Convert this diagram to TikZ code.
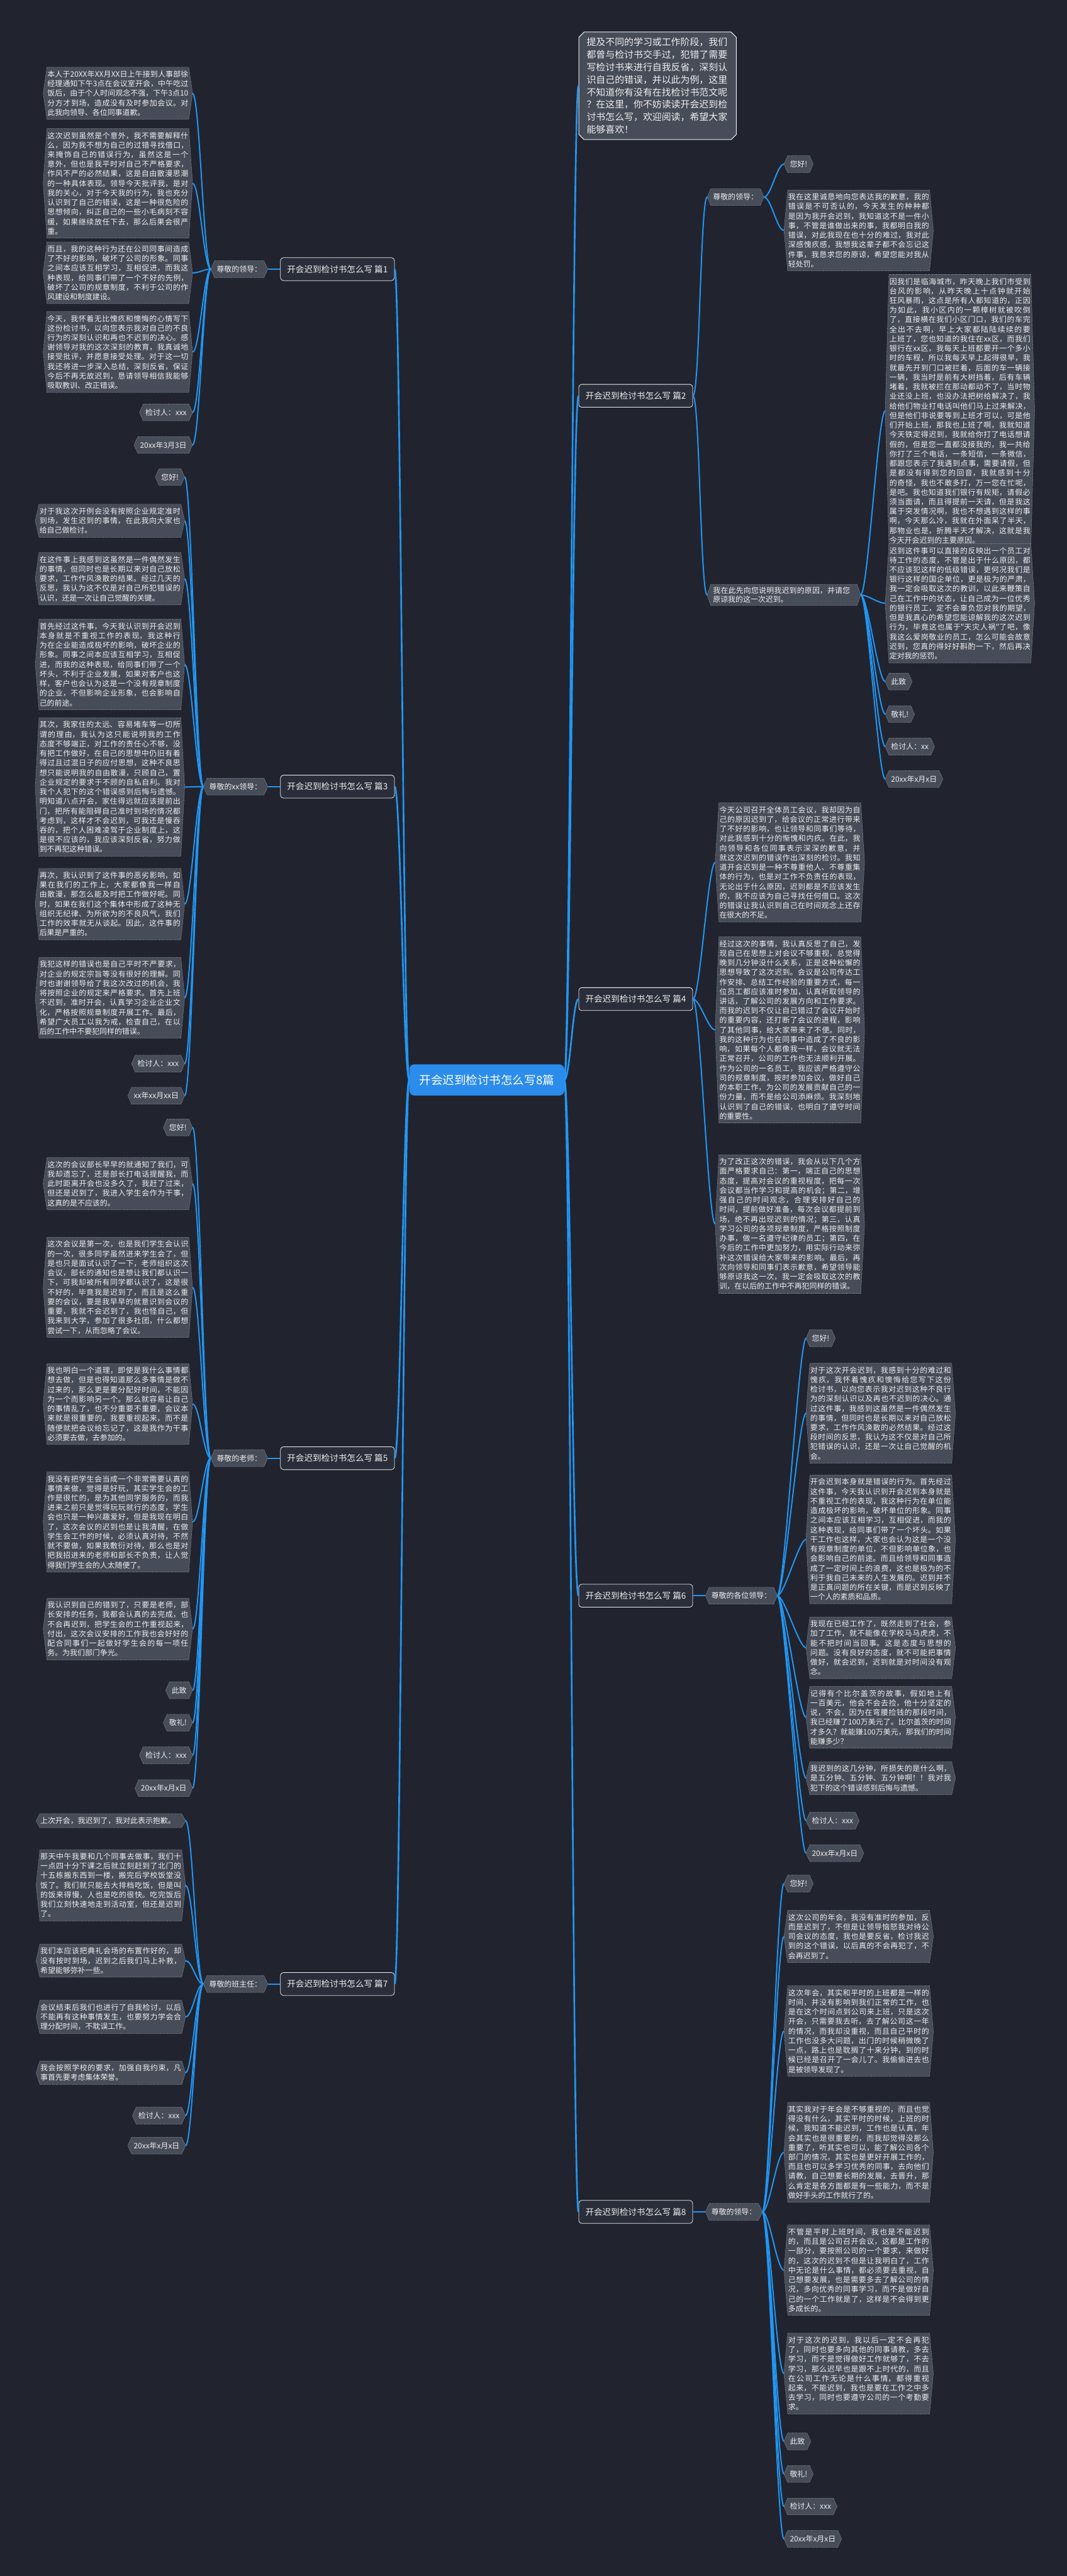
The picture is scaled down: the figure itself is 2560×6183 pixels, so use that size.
\documentclass[tikz,border=0pt]{standalone}
\usepackage{fontspec}
\setmainfont{Noto Sans CJK SC}
\newfontfamily\cjk{Noto Sans CJK SC}
\XeTeXlinebreaklocale "zh"
\XeTeXlinebreakskip=0pt plus 1pt
\usepackage{xcolor}
\usepackage{tikz}
\usetikzlibrary{positioning, shapes.misc, calc}

\definecolor{pagebg}{HTML}{21242F}
\definecolor{boxgray}{HTML}{474C59}
\definecolor{topicfill}{HTML}{2A2E3A}
\definecolor{linkblue}{HTML}{2196F3}
\definecolor{hubblue}{HTML}{2B8CEB}
\definecolor{txtwhite}{HTML}{EEEEEE}

\pgfdeclarelayer{pagelayer}
\pgfdeclarelayer{boxlayer}
\pgfsetlayers{pagelayer,boxlayer,main}

\begin{document}
\begin{tikzpicture}[
  x=1pt, y=-1pt,
  hub/.style={rectangle, rounded corners=12pt, fill=hubblue, text=white,
              font=\cjk\fontsize{28}{32}\selectfont, minimum height=75pt, inner xsep=24pt},
  topic/.style={rectangle, rounded corners=7pt, draw=txtwhite, line width=1.2pt, fill=topicfill,
                text=txtwhite, font=\cjk\fontsize{20.5}{24}\selectfont, minimum height=55pt, inner xsep=16pt},
  hexbox/.style={append after command={\pgfextra{\begin{pgfonlayer}{boxlayer}
      \path[fill=boxgray, draw=white!50!boxgray, densely dotted, line width=0.8pt]
        ([xshift=9pt]\tikzlastnode.north west) -- ([xshift=-9pt]\tikzlastnode.north east)
        -- (\tikzlastnode.east) -- ([xshift=-9pt]\tikzlastnode.south east)
        -- ([xshift=9pt]\tikzlastnode.south west) -- (\tikzlastnode.west) -- cycle;
      \end{pgfonlayer}}}},
  tag/.style={hexbox, text=txtwhite, font=\cjk\fontsize{18}{22}\selectfont,
              minimum height=40pt, inner xsep=14pt, inner ysep=6pt},
  leaf/.style={hexbox, text=txtwhite, font=\cjk\fontsize{18}{23}\selectfont,
               text width=338pt, align=justify, inner xsep=10pt, inner ysep=8pt},
  intro/.style={chamfered rectangle, chamfered rectangle xsep=9pt, draw=txtwhite, line width=1.5pt,
                fill=boxgray, text=txtwhite, font=\cjk\fontsize{22.5}{30}\selectfont,
                text width=340pt, align=left, inner xsep=10pt, inner ysep=10pt},
  link/.style={draw=linkblue, line width=3pt},
  trunk/.style={draw=linkblue, line width=4pt},
]
\begin{pgfonlayer}{pagelayer}
  \fill[pagebg] (0,0) rectangle (2560,6183);
\end{pgfonlayer}
\useasboundingbox (0,0) rectangle (2560,6183);

% centre and main topics
\node[hub] (hub) at (1168,2592) {开会迟到检讨书怎么写8篇};
\node[topic, anchor=east] (p1) at (947,646) {开会迟到检讨书怎么写 篇1};
\node[topic, anchor=east] (p3) at (947,1888) {开会迟到检讨书怎么写 篇3};
\node[topic, anchor=east] (p5) at (947,3500) {开会迟到检讨书怎么写 篇5};
\node[topic, anchor=east] (p7) at (947,4762) {开会迟到检讨书怎么写 篇7};
\node[topic, anchor=west] (p2) at (1388,950) {开会迟到检讨书怎么写 篇2};
\node[topic, anchor=west] (p4) at (1388,2398) {开会迟到检讨书怎么写 篇4};
\node[topic, anchor=west] (p6) at (1388,3830) {开会迟到检讨书怎么写 篇6};
\node[topic, anchor=west] (p8) at (1388,5309) {开会迟到检讨书怎么写 篇8};
\node[intro, anchor=west] (intro) at (1388,206) {提及不同的学习或工作阶段，我们\\都曾与检讨书交手过，犯错了需要\\写检讨书来进行自我反省，深刻认\\识自己的错误，并以此为例，这里\\不知道你有没有在找检讨书范文呢\\？在这里，你不妨读读开会迟到检\\讨书怎么写，欢迎阅读，希望大家\\能够喜欢！};

% greetings
\node[tag, left=30pt of p1] (g1) {尊敬的领导：};
\node[tag, left=30pt of p3] (g3) {尊敬的xx领导：};
\node[tag, left=30pt of p5] (g5) {尊敬的老师：};
\node[tag, left=30pt of p7] (g7) {尊敬的班主任：};
\coordinate (x2) at ([xshift=34pt]p2.east);
\node[tag, anchor=west] (g2a) at (x2 |- 0,473) {尊敬的领导：};
\node[tag, anchor=west, text width=340pt, align=left] (g2b) at (x2 |- 0,1428) {我在此先向您说明我迟到的原因，并请您原谅我的这一次迟到。};
\node[tag, right=30pt of p6] (g6) {尊敬的各位领导：};
\node[tag, right=30pt of p8] (g8) {尊敬的领导：};

% 篇1
\node[leaf, anchor=east] (g1-1) at (462,224) {本人于20XX年XX月XX日上午接到人事部徐经理通知下午3点在会议室开会，中午吃过饭后，由于个人时间观念不强，下午3点10分方才到场，造成没有及时参加会议。对此我向领导、各位同事道歉。};
\node[leaf, anchor=east] (g1-2) at (462,440) {这次迟到虽然是个意外，我不需要解释什么，因为我不想为自己的过错寻找借口，来掩饰自己的错误行为，虽然这是一个意外，但也是我平时对自己不严格要求，作风不严的必然结果，这是自由散漫思潮的一种具体表现。领导今天批评我，是对我的关心，对于今天我的行为，我也充分认识到了自己的错误，这是一种很危险的思想倾向，纠正自己的一些小毛病刻不容缓，如果继续放任下去，那么后果会很严重。};
\node[leaf, anchor=east] (g1-3) at (462,655) {而且，我的这种行为还在公司同事间造成了不好的影响，破坏了公司的形象。同事之间本应该互相学习，互相促进，而我这种表现，给同事们带了一个不好的先例，破坏了公司的规章制度，不利于公司的作风建设和制度建设。};
\node[leaf, anchor=east] (g1-4) at (462,845) {今天，我怀着无比愧疚和懊悔的心情写下这份检讨书，以向您表示我对自己的不良行为的深刻认识和再也不迟到的决心。感谢领导对我的这次深刻的教育，我真诚地接受批评，并愿意接受处理。对于这一切我还将进一步深入总结，深刻反省，保证今后不再无故迟到，恳请领导相信我能够吸取教训、改正错误。};
\node[tag, anchor=east] (g1-5) at (462,990) {检讨人：xxx};
\node[tag, anchor=east] (g1-6) at (462,1068) {20xx年3月3日};

% 篇3
\node[tag, anchor=east] (g3-1) at (443,1145) {您好!};
\node[leaf, anchor=east] (g3-2) at (443,1250) {对于我这次开例会没有按照企业规定准时到场，发生迟到的事情，在此我向大家也给自己做检讨。};
\node[leaf, anchor=east] (g3-3) at (443,1389) {在这件事上我感到这虽然是一件偶然发生的事情，但同时也是长期以来对自己放松要求，工作作风涣散的结果。经过几天的反思，我认为这不仅是对自己所犯错误的认识，还是一次让自己觉醒的关键。};
\node[leaf, anchor=east] (g3-4) at (443,1595) {首先经过这件事，今天我认识到开会迟到本身就是不重视工作的表现，我这种行为在企业能造成极坏的影响，破坏企业的形象。同事之间本应该互相学习，互相促进，而我的这种表现，给同事们带了一个坏头，不利于企业发展，如果对客户也这样，客户也会认为这是一个没有规章制度的企业，不但影响企业形象，也会影响自己的前途。};
\node[leaf, anchor=east] (g3-5) at (443,1889) {其次，我家住的太远、容易堵车等一切所谓的理由，我认为这只能说明我的工作态度不够端正，对工作的责任心不够，没有把工作做好，在自己的思想中仍旧有着得过且过混日子的应付思想，这种不良思想只能说明我的自由散漫，只顾自己，置企业规定的要求于不顾的自私自利。我对我个人犯下的这个错误感到后悔与遗憾。明知道八点开会，家住得远就应该提前出门，把所有能阻碍自己准时到场的情况都考虑到，这样才不会迟到，可我还是慢吞吞的，把个人困难凌驾于企业制度上，这是很不应该的，我应该深刻反省，努力做到不再犯这种错误。};
\node[leaf, anchor=east] (g3-6) at (443,2170) {再次，我认识到了这件事的恶劣影响，如果在我们的工作上，大家都像我一样自由散漫，那怎么能及时把工作做好呢。同时，如果在我们这个集体中形成了这种无组织无纪律、为所欲为的不良风气，我们工作的效率就无从谈起。因此，这件事的后果是严重的。};
\node[leaf, anchor=east] (g3-7) at (443,2395) {我犯这样的错误也是自己平时不严要求，对企业的规定宗旨等没有很好的理解。同时也谢谢领导给了我这次改过的机会，我将按照企业的规定来严格要求。首先上班不迟到，准时开会，认真学习企业企业文化，严格按照规章制度开展工作。最后，希望广大员工以我为戒，检查自己，在以后的工作中不要犯同样的错误。};
\node[tag, anchor=east] (g3-8) at (443,2553) {检讨人：xxx};
\node[tag, anchor=east] (g3-9) at (443,2630) {xx年xx月xx日};

% 篇5
\node[tag, anchor=east] (g5-1) at (462,2706) {您好!};
\node[leaf, anchor=east] (g5-2) at (462,2841) {这次的会议部长早早的就通知了我们，可我却遗忘了，还是部长打电话提醒我，而此时距离开会也没多久了，我赶了过来，但还是迟到了，我进入学生会作为干事，这真的是不应该的。};
\node[leaf, anchor=east] (g5-3) at (462,3090) {这次会议是第一次，也是我们学生会认识的一次，很多同学虽然进来学生会了，但是也只是面试认识了一下，老师组织这次会议，部长的通知也是想让我们都认识一下，可我却被所有同学都认识了，这是很不好的，毕竟我是迟到了，而且是这么重要的会议，要是我早早的就意识到会议的重要，我就不会迟到了，我也怪自己，但我来到大学，参加了很多社团，什么都想尝试一下，从而忽略了会议。};
\node[leaf, anchor=east] (g5-4) at (462,3370) {我也明白一个道理，即使是我什么事情都想去做，但是也得知道那么多事情是做不过来的，那么更是要分配好时间，不能因为一个而影响另一个。那么就容易让自己的事情乱了，也不分重要不重要，会议本来就是很重要的，我要重视起来，而不是随便就把会议给忘记了，这是我作为干事必须要去做，去参加的。};
\node[leaf, anchor=east] (g5-5) at (462,3653) {我没有把学生会当成一个非常需要认真的事情来做，觉得是好玩，其实学生会的工作是很忙的，是为其他同学服务的，而我进来之前只是觉得玩玩就行的态度，学生会也只是一种兴趣爱好，但是我现在明白了，这次会议的迟到也是让我清醒，在做学生会工作的时候，必须认真对待，不然就不要做，如果我敷衍对待，那么也是对把我招进来的老师和部长不负责，让人觉得我们学生会的人太随便了。};
\node[leaf, anchor=east] (g5-6) at (462,3910) {我认识到自己的错到了，只要是老师，部长安排的任务，我都会认真的去完成，也不会再迟到，把学生会的工作重视起来，付出，这次会议安排的工作我也会好好的配合同事们一起做好学生会的每一项任务。为我们部门争光。};
\node[tag, anchor=east] (g5-7) at (462,4057) {此致};
\node[tag, anchor=east] (g5-8) at (462,4135) {敬礼!};
\node[tag, anchor=east] (g5-9) at (462,4213) {检讨人：xxx};
\node[tag, anchor=east] (g5-10) at (462,4292) {20xx年x月x日};

% 篇7
\node[leaf, anchor=east] (g7-1) at (445,4370) {上次开会，我迟到了，我对此表示抱歉。};
\node[leaf, anchor=east] (g7-2) at (445,4525) {那天中午我要和几个同事去做事，我们十一点四十分下课之后就立刻赶到了北门的十五栋搬东西到一楼，搬完后学校饭堂没饭了。我们就只能去大排档吃饭，但是叫的饭来得慢，人也是吃的很快。吃完饭后我们立刻快速地走到活动室，但还是迟到了。};
\node[leaf, anchor=east] (g7-3) at (445,4706) {我们本应该把典礼会场的布置作好的，却没有按时到场，迟到之后我们马上补救，希望能够弥补一些。};
\node[leaf, anchor=east] (g7-4) at (445,4841) {会议结束后我们也进行了自我检讨，以后不能再有这种事情发生，也要努力学会合理分配时间，不耽误工作。};
\node[leaf, anchor=east] (g7-5) at (445,4975) {我会按照学校的要求，加强自我约束，凡事首先要考虑集体荣誉。};
\node[tag, anchor=east] (g7-6) at (445,5078) {检讨人：xxx};
\node[tag, anchor=east] (g7-7) at (445,5150) {20xx年x月x日};

% 篇2
\node[tag, anchor=west] (g2a-1) at (1881,394) {您好!};
\node[leaf, anchor=west] (g2a-2) at (1881,553) {我在这里诚恳地向您表达我的歉意，我的错误是不可否认的，今天发生的种种都是因为我开会迟到，我知道这不是一件小事，不管是谁做出来的事，我都明白我的错误，对此我现在也十分的难过，我对此深感愧疚感，我想我这辈子都不会忘记这件事，我恳求您的原谅，希望您能对我从轻处罚。};
\node[leaf, anchor=west] (g2b-1) at (2124,986) {因我们是临海城市，昨天晚上我们市受到台风的影响，从昨天晚上十点钟就开始狂风暴雨，这点是所有人都知道的，正因为如此，我小区内的一颗樟树就被吹倒了，直接横在我们小区门口，我们的车完全出不去啊，早上大家都陆陆续续的要上班了，您也知道的我住在xx区，而我们银行在xx区，我每天上班都要开一个多小时的车程，所以我每天早上起得很早，我就最先开到门口被拦着，后面的车一辆接一辆，我当时是前有大树挡着，后有车辆堵着，我就被拦在那动都动不了，当时物业还没上班，也没办法把树给解决了，我给他们物业打电话叫他们马上过来解决，但是他们非说要等到上班才可以，可是他们开始上班，那我也上班了啊，我就知道今天铁定得迟到，我就给你打了电话想请假的，但是您一直都没接我的，我一共给你打了三个电话，一条短信，一条微信，都跟您表示了我遇到点事，需要请假，但是都没有得到您的回音，我就感到十分的奇怪，我也不敢多打，万一您在忙呢，是吧。我也知道我们银行有规矩，请假必须当面请，而且得提前一天请，但是我这属于突发情况啊，我也不想遇到这样的事啊，今天那么冷，我就在外面呆了半天，那物业也是，折腾半天才解决，这就是我今天开会迟到的主要原因。};
\node[leaf, anchor=west] (g2b-2) at (2124,1448) {迟到这件事可以直接的反映出一个员工对待工作的态度，不管是出于什么原因，都不应该犯这样的低级错误，更何况我们是银行这样的国企单位，更是极为的严肃，我一定会吸取这次的教训，以此来鞭策自己在工作中的状态，让自己成为一位优秀的银行员工，定不会辜负您对我的期望，但是我真心的希望您能谅解我的这次迟到行为，毕竟这也属于"天灾人祸"了吧，像我这么爱岗敬业的员工，怎么可能会故意迟到，您真的得好好斟酌一下，然后再决定对我的惩罚。};
\node[tag, anchor=west] (g2b-3) at (2124,1636) {此致};
\node[tag, anchor=west] (g2b-4) at (2124,1714) {敬礼!};
\node[tag, anchor=west] (g2b-5) at (2124,1792) {检讨人：xx};
\node[tag, anchor=west] (g2b-6) at (2124,1870) {20xx年x月x日};

% 篇4
\node[leaf, anchor=west] (p4-1) at (1716,2070) {今天公司召开全体员工会议，我却因为自己的原因迟到了，给会议的正常进行带来了不好的影响，也让领导和同事们等待，对此我感到十分的惭愧和内疚。在此，我向领导和各位同事表示深深的歉意，并就这次迟到的错误作出深刻的检讨。我知道开会迟到是一种不尊重他人、不尊重集体的行为，也是对工作不负责任的表现，无论出于什么原因，迟到都是不应该发生的，我不应该为自己寻找任何借口。这次的错误让我认识到自己在时间观念上还存在很大的不足。};
\node[leaf, anchor=west] (p4-2) at (1716,2472) {经过这次的事情，我认真反思了自己，发现自己在思想上对会议不够重视，总觉得晚到几分钟没什么关系，正是这种松懈的思想导致了这次迟到。会议是公司传达工作安排、总结工作经验的重要方式，每一位员工都应该准时参加，认真听取领导的讲话，了解公司的发展方向和工作要求。而我的迟到不仅让自己错过了会议开始时的重要内容，还打断了会议的进程，影响了其他同事，给大家带来了不便。同时，我的这种行为也在同事中造成了不良的影响，如果每个人都像我一样，会议就无法正常召开，公司的工作也无法顺利开展。作为公司的一名员工，我应该严格遵守公司的规章制度，按时参加会议，做好自己的本职工作，为公司的发展贡献自己的一份力量，而不是给公司添麻烦。我深刻地认识到了自己的错误，也明白了遵守时间的重要性。};
\node[leaf, anchor=west] (p4-3) at (1716,2938) {为了改正这次的错误，我会从以下几个方面严格要求自己：第一，端正自己的思想态度，提高对会议的重视程度，把每一次会议都当作学习和提高的机会；第二，增强自己的时间观念，合理安排好自己的时间，提前做好准备，每次会议都提前到场，绝不再出现迟到的情况；第三，认真学习公司的各项规章制度，严格按照制度办事，做一名遵守纪律的员工；第四，在今后的工作中更加努力，用实际行动来弥补这次错误给大家带来的影响。最后，再次向领导和同事们表示歉意，希望领导能够原谅我这一次，我一定会吸取这次的教训，在以后的工作中不再犯同样的错误。};

% 篇6
\node[tag, anchor=west] (g6-1) at (1934,3212) {您好!};
\node[leaf, anchor=west] (g6-2) at (1934,3392) {对于这次开会迟到，我感到十分的难过和愧疚，我怀着愧疚和懊悔给您写下这份检讨书，以向您表示我对迟到这种不良行为的深刻认识以及再也不迟到的决心。通过这件事，我感到这虽然是一件偶然发生的事情，但同时也是长期以来对自己放松要求，工作作风涣散的必然结果。经过这段时间的反思，我认为这不仅是对自己所犯错误的认识，还是一次让自己觉醒的机会。};
\node[leaf, anchor=west] (g6-3) at (1934,3695) {开会迟到本身就是错误的行为。首先经过这件事，今天我认识到开会迟到本身就是不重视工作的表现，我这种行为在单位能造成极坏的影响，破坏单位的形象。同事之间本应该互相学习，互相促进，而我的这种表现，给同事们带了一个坏头。如果干工作也这样，大家也会认为这是一个没有规章制度的单位，不但影响单位象，也会影响自己的前途。而且给领导和同事造成了一定时间上的浪费，这也是极为的不利于我自己未来的人生发展的。迟到并不是正真问题的所在关键，而是迟到反映了一个人的素质和品质。};
\node[leaf, anchor=west] (g6-4) at (1934,3955) {我现在已经工作了，既然走到了社会，参加了工作，就不能像在学校马马虎虎，不能不把时间当回事。这是态度与思想的问题。没有良好的态度，就不可能把事情做好，就会迟到，迟到就是对时间没有观念。};
\node[leaf, anchor=west] (g6-5) at (1934,4122) {记得有个比尔盖茨的故事，假如地上有一百美元，他会不会去捡，他十分坚定的说，不会，因为在弯腰捡钱的那段时间，我已经赚了100万美元了。比尔盖茨的时间才多久？就能赚100万美元，那我们的时间能赚多少？};
\node[leaf, anchor=west] (g6-6) at (1934,4268) {我迟到的这几分钟，所损失的是什么啊，是五分钟、五分钟、五分钟啊！！我对我犯下的这个错误感到后悔与遗憾。};
\node[tag, anchor=west] (g6-7) at (1934,4370) {检讨人：xxx};
\node[tag, anchor=west] (g6-8) at (1934,4448) {20xx年x月x日};

% 篇8
\node[tag, anchor=west] (g8-1) at (1881,4521) {您好!};
\node[leaf, anchor=west] (g8-2) at (1881,4648) {这次公司的年会，我没有准时的参加，反而是迟到了，不但是让领导恼怒我对待公司会议的态度，我也是要反省，检讨我迟到的这个错误，以后真的不会再犯了，不会再迟到了。};
\node[leaf, anchor=west] (g8-3) at (1881,4875) {这次年会，其实和平时的上班都是一样的时间，并没有影响到我们正常的工作，也是在这个时间点到公司来上班，只是这次开会，只需要我去听，去了解公司这一年的情况，而我却没重视，而且自己平时的工作也没多大问题，出门的时候稍微晚了一点，路上也是耽搁了十来分钟，到的时候已经是召开了一会儿了。我偷偷进去也是被领导发现了。};
\node[leaf, anchor=west] (g8-4) at (1881,5166) {其实我对于年会是不够重视的，而且也觉得没有什么，其实平时的时候，上班的时候，我知道不能迟到，工作也是认真，年会其实也是很重要的，而我却觉得没那么重要了，听其实也可以，能了解公司各个部门的情况，其实也是更好开展工作的，而且也可以多学习优秀的同事，去向他们请教，自己想要长期的发展，去晋升，那么肯定是各方面都是有一些能力，而不是做好手头的工作就行了的。};
\node[leaf, anchor=west] (g8-5) at (1881,5449) {不管是平时上班时间，我也是不能迟到的，而且是公司召开会议，这都是工作的一部分，要按照公司的一个要求，来做好的，这次的迟到不但是让我明白了，工作中无论是什么事情，都必须要去重视，自己想要发展，也是需要多去了解公司的情况，多向优秀的同事学习，而不是做好自己的一个工作就是了，这样是不会得到更多成长的。};
\node[leaf, anchor=west] (g8-6) at (1881,5697) {对于这次的迟到，我以后一定不会再犯了，同时也要多向其他的同事请教，多去学习，而不是觉得做好工作就够了，不去学习，那么迟早也是跟不上时代的，而且在公司工作无论是什么事情，都得重视起来，不能迟到，我也是要在工作之中多去学习，同时也要遵守公司的一个考勤要求。};
\node[tag, anchor=west] (g8-7) at (1881,5860) {此致};
\node[tag, anchor=west] (g8-8) at (1881,5938) {敬礼!};
\node[tag, anchor=west] (g8-9) at (1881,6016) {检讨人：xxx};
\node[tag, anchor=west] (g8-10) at (1881,6094) {20xx年x月x日};

% links from the centre
\foreach \t in {p1,p3,p5,p7}
  \draw[trunk] (hub.west) .. controls +(-14,0) and +(14,0) .. (\t.east);
\foreach \t in {intro,p2,p4,p6,p8}
  \draw[trunk] (hub.east) .. controls +(14,0) and +(-14,0) .. (\t.west);

% topics to greetings
\foreach \t in {1,3,5,7}
  \draw[link] (p\t.west) -- (g\t.east);
\draw[link] (p2.east) .. controls +(16,0) and +(-16,0) .. (g2a.west);
\draw[link] (p2.east) .. controls +(16,0) and +(-16,0) .. (g2b.west);
\draw[link] (p6.east) -- (g6.west);
\draw[link] (p8.east) -- (g8.west);

% greetings to leaves
\foreach \g/\n in {g1/6, g3/9, g5/10, g7/7}
  \foreach \i in {1,...,\n}
    \draw[link] (\g.west) .. controls +(-17,0) and +(17,0) .. (\g-\i.east);
\foreach \g/\n in {g2a/2, g2b/6, g6/8, g8/10, p4/3}
  \foreach \i in {1,...,\n}
    \draw[link] (\g.east) .. controls +(17,0) and +(-17,0) .. (\g-\i.west);
\end{tikzpicture}
\end{document}
